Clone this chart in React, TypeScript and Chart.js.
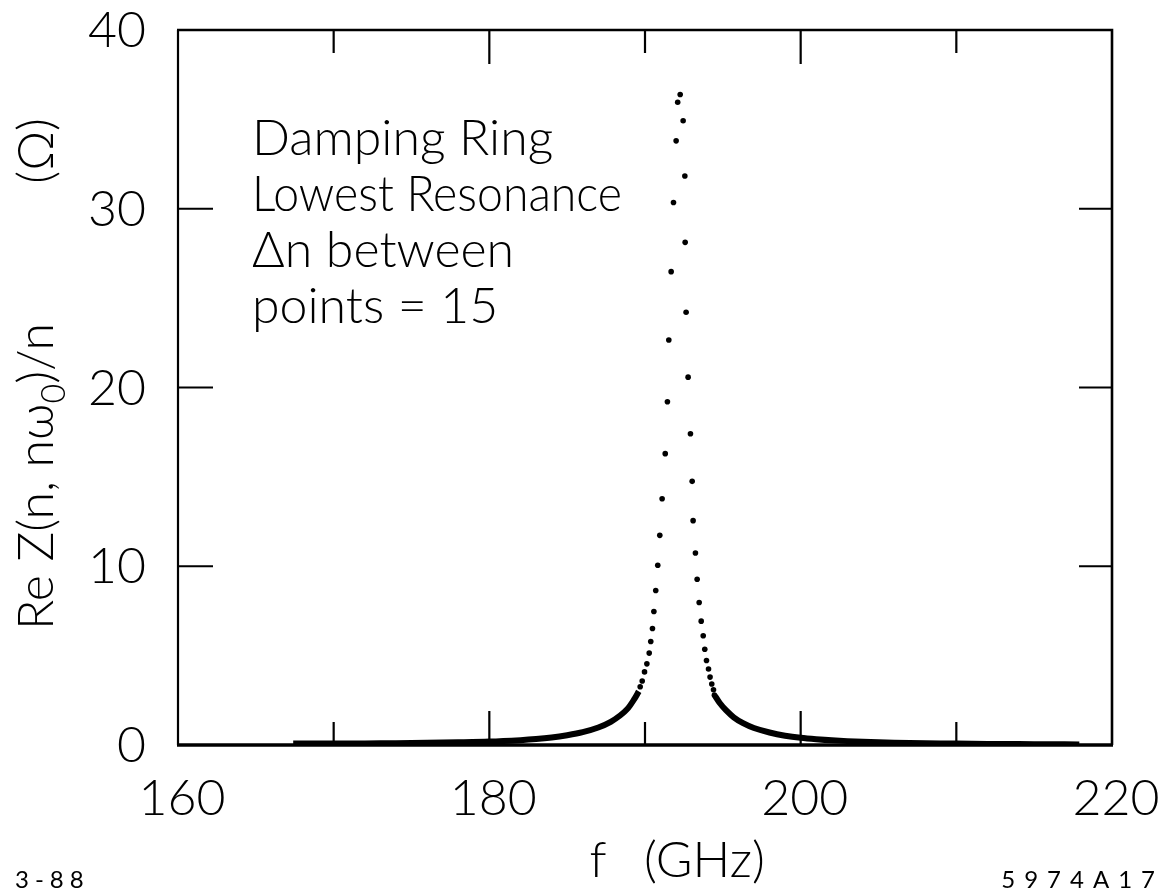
import React, { useEffect, useRef } from "react";
import { Chart, registerables } from "chart.js";

Chart.register(...registerables);

// Individually resolved samples around the resonance peak (GHz, Ω)
const peakFreq = [
  189.69, 189.82, 189.97, 190.12, 190.27, 190.37, 190.48, 190.57, 190.69, 190.82,
  190.95, 191.1, 191.3, 191.44, 191.53, 191.68, 191.83, 192.0, 192.1,
  192.26, 192.45, 192.56, 192.58, 192.64, 192.77, 192.92, 193.03, 193.09, 193.24,
  193.35, 193.48, 193.61, 193.74, 193.84, 193.95, 194.08, 194.18, 194.29, 194.4, 194.46,
];
const peakValue = [
  3.26, 3.58, 4.09, 4.54, 5.14, 5.79, 6.52, 7.47, 8.64, 10.06,
  11.73, 13.78, 16.3, 19.2, 22.66, 26.48, 30.35, 33.8, 35.96,
  36.39, 34.92, 31.83, 28.12, 24.21, 20.58, 17.41, 14.75, 12.55, 10.74,
  9.27, 7.97, 6.93, 6.11, 5.36, 4.73, 4.25, 3.8, 3.41, 3.09, 2.79,
];

// Densely packed samples below the resonance (they merge into a band)
const lowTailFreq = [
  167.4, 170, 172, 174, 176, 178, 180, 182, 183, 184, 185, 186, 187, 187.8, 188.4,
  188.9, 189.3, 189.6,
];
const lowTailValue = [
  0.08, 0.08, 0.09, 0.1, 0.12, 0.15, 0.19, 0.27, 0.33, 0.42, 0.55, 0.72, 0.98, 1.3,
  1.65, 2.05, 2.55, 3.0,
];

// Densely packed samples above the resonance
const highTailFreq = [
  194.5, 194.8, 195.2, 195.7, 196.3, 197, 198, 199, 200, 201, 202, 204, 206, 208,
  210, 212, 214, 216, 217.9,
];
const highTailValue = [
  2.75, 2.35, 1.95, 1.55, 1.22, 0.95, 0.7, 0.52, 0.4, 0.32, 0.26, 0.18, 0.13, 0.1,
  0.08, 0.06, 0.05, 0.04, 0.03,
];

// Axes
const xMin = 160;
const xMax = 220;
const yMin = 0;
const yMax = 40;
const xLabelValues = [160, 180, 200, 220];
const xLongTicks = [180, 200];
const xShortTicks = [170, 190, 210];
const yLabelValues = [0, 10, 20, 30, 40];
const yTickValues = [10, 20, 30];

const noteLines = ["Damping Ring", "Lowest Resonance", "\u0394n between", "points = 15"];
const dateCode = "3-88";
const figureCode = "5974A17";

const FONT = '"Lato", "Open Sans", "DejaVu Sans", sans-serif';

const framePlugin = {
  id: "plotFrame",
  afterDraw(chart: any) {
    const ctx: CanvasRenderingContext2D = chart.ctx;
    const xs = chart.scales.x;
    const ys = chart.scales.y;
    const a = chart.chartArea;
    ctx.save();
    ctx.strokeStyle = "#000";
    ctx.fillStyle = "#000";
    ctx.lineCap = "butt";

    // frame
    ctx.lineWidth = 2.2;
    ctx.beginPath();
    ctx.moveTo(a.left, a.bottom);
    ctx.lineTo(a.left, a.top);
    ctx.stroke();
    ctx.lineWidth = 2.6;
    ctx.beginPath();
    ctx.moveTo(a.left - 1, a.top);
    ctx.lineTo(a.right, a.top);
    ctx.lineTo(a.right, a.bottom);
    ctx.stroke();
    ctx.lineWidth = 3.4;
    ctx.beginPath();
    ctx.moveTo(a.left - 1, a.bottom);
    ctx.lineTo(a.right + 1, a.bottom);
    ctx.stroke();

    // inward ticks
    ctx.lineWidth = 2.2;
    const vTick = (v: number, len: number) => {
      const px = xs.getPixelForValue(v);
      ctx.beginPath();
      ctx.moveTo(px, a.bottom);
      ctx.lineTo(px, a.bottom - len);
      ctx.moveTo(px, a.top);
      ctx.lineTo(px, a.top + len);
      ctx.stroke();
    };
    xLongTicks.forEach((v) => vTick(v, 34));
    xShortTicks.forEach((v) => vTick(v, 23));
    yTickValues.forEach((v) => {
      const py = ys.getPixelForValue(v);
      ctx.beginPath();
      ctx.moveTo(a.left, py);
      ctx.lineTo(a.left + 35, py);
      ctx.moveTo(a.right, py);
      ctx.lineTo(a.right - 33, py);
      ctx.stroke();
    });

    // tick labels
    ctx.font = `300 50px ${FONT}`;
    ctx.textAlign = "center";
    ctx.textBaseline = "alphabetic";
    xLabelValues.forEach((v) => {
      ctx.fillText(String(v), xs.getPixelForValue(v) + 4, a.bottom + 70);
    });
    ctx.textAlign = "right";
    ctx.textBaseline = "middle";
    yLabelValues.forEach((v) => {
      ctx.fillText(String(v), 146, ys.getPixelForValue(v) + 1);
    });

    // x-axis title
    ctx.textBaseline = "alphabetic";
    ctx.textAlign = "center";
    ctx.fillText("f", 598, 877);
    ctx.textAlign = "left";
    ctx.fillText("(GHz)", 644, 877);

    // y-axis title, rotated
    ctx.save();
    ctx.translate(53, 630);
    ctx.rotate(-Math.PI / 2);
    ctx.textAlign = "left";
    let cx = 0;
    const part1 = "Re Z(n, n\u03c9";
    ctx.fillText(part1, cx, 0);
    cx += ctx.measureText(part1).width;
    ctx.font = `300 34px ${FONT}`;
    ctx.fillText("0", cx, 12);
    cx += ctx.measureText("0").width;
    ctx.font = `300 50px ${FONT}`;
    ctx.fillText(")/n", cx, 0);
    ctx.textAlign = "right";
    ctx.fillText("(\u03a9)", 512, 0);
    ctx.restore();

    // annotation
    ctx.textAlign = "left";
    noteLines.forEach((line, i) => {
      ctx.fillText(line, 252, 155 + i * 56, 370);
    });

    // corner codes
    ctx.font = `400 24px ${FONT}`;
    (ctx as any).letterSpacing = "6px";
    ctx.textAlign = "left";
    ctx.fillText(dateCode, 15, 888);
    (ctx as any).letterSpacing = "9px";
    ctx.textAlign = "right";
    ctx.fillText(figureCode, 1164, 888);
    (ctx as any).letterSpacing = "0px";

    ctx.restore();
  },
};

export default function App() {
  const canvasRef = useRef<HTMLCanvasElement | null>(null);

  useEffect(() => {
    document.body.style.margin = "0";
    const canvas = canvasRef.current;
    if (!canvas) return;
    const toPoints = (xs: number[], ys: number[]) => xs.map((x, i) => ({ x, y: ys[i] }));

    const chart = new Chart(canvas, {
      type: "scatter",
      data: {
        datasets: [
          {
            label: "below",
            data: toPoints(lowTailFreq, lowTailValue),
            showLine: true,
            borderColor: "#000",
            borderWidth: 6,
            pointRadius: 0,
            tension: 0.3,
          },
          {
            label: "above",
            data: toPoints(highTailFreq, highTailValue),
            showLine: true,
            borderColor: "#000",
            borderWidth: 6,
            pointRadius: 0,
            tension: 0.3,
          },
          {
            label: "peak",
            data: toPoints(peakFreq, peakValue),
            showLine: false,
            backgroundColor: "#000",
            borderColor: "#000",
            borderWidth: 0,
            pointRadius: 2.8,
          },
        ],
      },
      options: {
        responsive: false,
        animation: false,
        layout: { padding: { left: 178, top: 30, right: 59, bottom: 151 } },
        plugins: { legend: { display: false }, tooltip: { enabled: false } },
        scales: {
          x: { type: "linear", min: xMin, max: xMax, display: false },
          y: { type: "linear", min: yMin, max: yMax, display: false },
        },
      },
      plugins: [framePlugin],
    });
    return () => chart.destroy();
  }, []);

  return (
    <div style={{ position: "absolute", left: 0, top: 0, width: 1171, height: 896, background: "#fff" }}>
      <canvas ref={canvasRef} width={1171} height={896} />
    </div>
  );
}
